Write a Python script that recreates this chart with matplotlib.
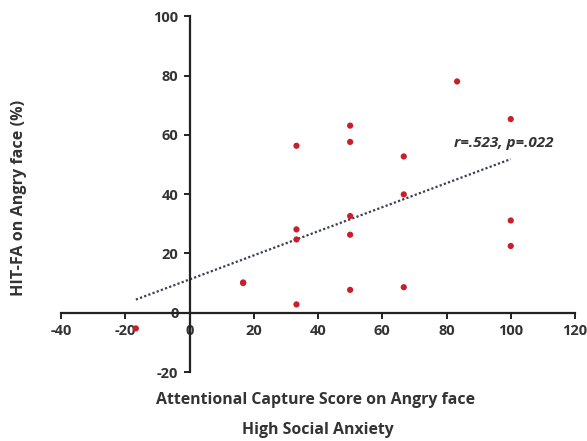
import matplotlib
matplotlib.use("Agg")
import matplotlib.pyplot as plt
import numpy as np

plt.rcParams['font.family'] = ['Open Sans', 'Lato', 'DejaVu Sans']
plt.rcParams['axes.unicode_minus'] = False

# Data
capture_score = [-16.7, 16.7, 16.7, 33.3, 33.3, 33.3, 33.3, 50, 50, 50, 50, 50,
                 66.7, 66.7, 66.7, 83.3, 100, 100, 100]
hit_fa = [-5.3, 10.0, 10.2, 2.8, 24.7, 28.1, 56.3, 7.7, 26.3, 32.6, 57.6, 63.1,
          8.6, 39.9, 52.7, 78.0, 22.5, 31.1, 65.3]
x_ticks = [-40, -20, 0, 20, 40, 60, 80, 100, 120]
y_ticks = [-20, 0, 20, 40, 60, 80, 100]
stat_text = "r=.523, p=.022"

x = np.array(capture_score)
y = np.array(hit_fa)

fig = plt.figure(figsize=(5.87, 4.41), dpi=100)
ax = fig.add_axes([61/587, 1-372/441, (575-61)/587, (372-16.2)/441])

# trend line
slope, intercept = np.polyfit(x, y, 1)
xl = np.array([x.min(), x.max()])
ax.plot(xl, slope*xl + intercept, linestyle=(0, (1, 1)), color='#3a3e58', linewidth=1.6)

ax.scatter(x, y, s=20, color='#c8202a', edgecolors='none', zorder=3)

ax.set_xlim(-40, 120)
ax.set_ylim(-20, 100)
ax.set_xticks(x_ticks)
ax.set_yticks(y_ticks)

for s in ['top', 'right']:
    ax.spines[s].set_visible(False)
ax.spines['left'].set_position(('data', 0))
ax.spines['bottom'].set_position(('data', 0))
for s in ['left', 'bottom']:
    ax.spines[s].set_linewidth(1.6)
    ax.spines[s].set_color('#222222')

ax.tick_params(axis='both', direction='out', length=4, width=1.4, color='#222222',
               labelsize=10.5, labelcolor='#333333', pad=4)
for lab in ax.get_xticklabels() + ax.get_yticklabels():
    lab.set_fontweight('bold')

ax.text(82.4, 57.2, stat_text, ha='left', va='center', fontsize=11,
        fontweight='bold', fontstyle='italic', color='#333333')

fig.text(315/587, 1-400/441, "Attentional Capture Score on Angry face",
         ha='center', va='center', fontsize=11.4, fontweight='bold', color='#333333')
fig.text(318/587, 1-430/441, "High Social Anxiety",
         ha='center', va='center', fontsize=11.4, fontweight='bold', color='#333333')
fig.text(19/587, 1-198/441, "HIT-FA on Angry face (%)", rotation=90,
         ha='center', va='center', fontsize=11.6, fontweight='bold', color='#333333')

fig.savefig("out.png", dpi=100)
